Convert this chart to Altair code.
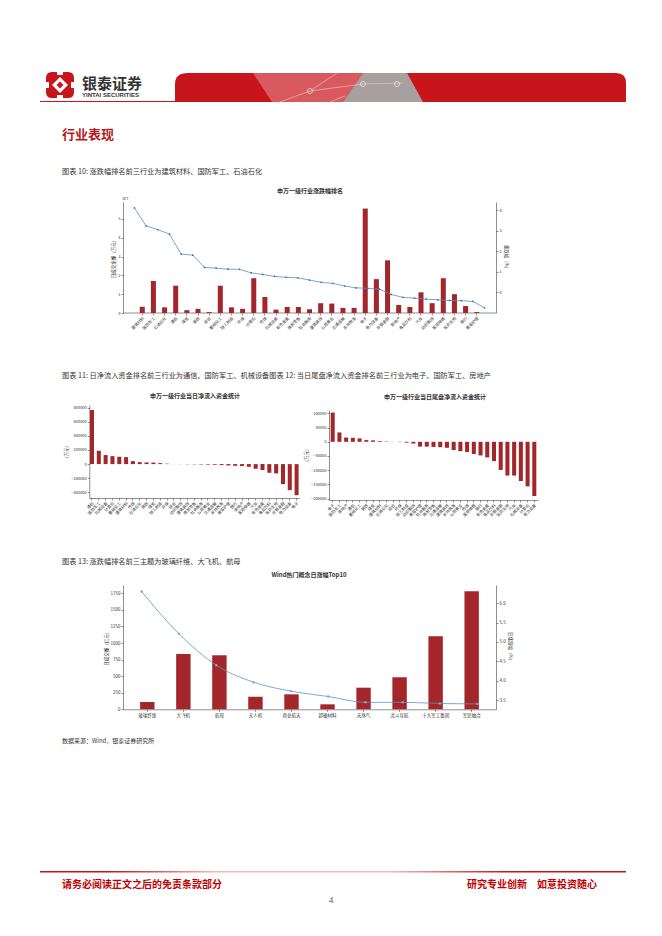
import altair as alt
import pandas as pd

FONT = "Noto Sans CJK SC"
W, H = 646, 918
M = 8  # page margin

BAR = "#a3262a"
LINE1 = "#5b8fbd"
DOT1 = "#3f6f98"
LINE4 = "#5a94c2"
DOT4 = "#8ea6ba"
RED = "#c8141b"

# ---------------- chart 1: 申万一级行业涨跌幅排名 ----------------
ind1 = ["建筑材料", "国防军工", "石油石化", "通信", "煤炭", "钢铁", "综合", "基础化工",
        "轻工制造", "环保", "计算机", "传媒", "机械设备", "有色金属", "商贸零售", "社会服务",
        "建筑装饰", "公用事业", "交通运输", "农林牧渔", "电子", "电力设备", "非银金融", "房地产",
        "食品饮料", "汽车", "纺织服饰", "家用电器", "医药生物", "银行", "美容护理"]
amt1 = [0.33, 1.70, 0.30, 1.45, 0.15, 0.22, 0.05, 1.45, 0.30, 0.22, 1.85, 0.85, 0.18, 0.32,
        0.32, 0.20, 0.52, 0.50, 0.27, 0.27, 5.55, 1.80, 2.80, 0.43, 0.32, 1.10, 0.52, 1.85,
        1.00, 0.37, 0.05]
pct1 = [4.10, 3.23, 3.05, 2.83, 1.86, 1.81, 1.21, 1.18, 1.13, 1.12, 0.95, 0.87, 0.78, 0.73,
        0.71, 0.60, 0.49, 0.44, 0.31, 0.22, 0.20, 0.16, -0.10, -0.24, -0.28, -0.33, -0.36,
        -0.39, -0.40, -0.44, -0.75]

# ---------------- chart 2: 当日净流入资金 ----------------
ind2 = ["通信", "国防军工", "机械设备", "计算机", "基础化工", "建筑材料", "传媒", "石油石化",
        "钢铁", "煤炭", "轻工制造", "环保", "综合", "纺织服饰", "建筑装饰", "商贸零售",
        "社会服务", "公用事业", "交通运输", "农林牧渔", "美容护理", "银行", "房地产", "家用电器",
        "汽车", "有色金属", "食品饮料", "医药生物", "非银金融", "电力设备", "电子"]
flow2 = [766000, 189000, 128000, 113000, 104000, 99000, 42000, 28000, 24000, 22000, 14000,
         6000, 1000, -1500, -3000, -4000, -6000, -8000, -10000, -14000, -19000, -24000,
         -28000, -38000, -66000, -85000, -123000, -132000, -284000, -369000, -440000]

# ---------------- chart 3: 当日尾盘净流入资金 ----------------
ind3 = ["电子", "国防军工", "房地产", "通信", "基础化工", "钢铁", "煤炭", "建筑材料",
        "石油石化", "综合", "环保", "轻工制造", "纺织服饰", "美容护理", "社会服务", "商贸零售",
        "交通运输", "建筑装饰", "农林牧渔", "公用事业", "传媒", "家用电器", "银行", "有色金属",
        "食品饮料", "非银金融", "医药生物", "汽车", "机械设备", "计算机", "电力设备"]
flow3 = [103000, 33000, 15000, 14000, 12000, 6000, 5000, 2500, 1200, 500, -1000, -3000,
         -6000, -17000, -17000, -18000, -19000, -21000, -29000, -33000, -36000, -43000,
         -48000, -55000, -68000, -99000, -119000, -119000, -138000, -157000, -191000]

# ---------------- chart 4: Wind热门概念日涨幅Top10 ----------------
theme4 = ["玻璃纤维", "大飞机", "航母", "无人机", "商业航天", "超硬材料", "天然气",
          "北斗导航", "十大军工集团", "军民融合"]
amt4 = [111, 835, 815, 191, 226, 75, 326, 483, 1101, 1780]
pct4 = [6.30, 5.21, 4.40, 3.96, 3.73, 3.59, 3.44, 3.44, 3.41, 3.40]

base = pd.DataFrame({"k": [0]})

AX = dict(domainColor="#444", domainWidth=0.6, tickColor="#444", tickWidth=0.6, tickSize=2,
          labelFontSize=4, labelColor="#333", labelFont=FONT, titleFont=FONT,
          titleFontSize=4.5, titleFontWeight="normal", titleColor="#333", grid=False,
          labelPadding=1, titlePadding=2)


def band(domain, r0, r1, pi, po):
    return alt.Scale(domain=domain, range=[r0 - M, r1 - M], paddingInner=pi, paddingOuter=po)


def lin(domain, ybot, ytop):
    return alt.Scale(domain=domain, range=[ybot - M, ytop - M], nice=False, zero=False)


def xaxis(ybot, angle, domain=True):
    return alt.Axis(orient="bottom", offset=(ybot - M) - H, labelAngle=angle, title=None,
                    labelOverlap=False, domain=domain, **AX)


def txt(x, y, s, size, color="#333", weight="normal", align="left", baseline="middle",
        font=FONT):
    return alt.Chart(base).mark_text(text=s, fontSize=size, color=color, fontWeight=weight,
                                     align=align, baseline=baseline, font=font).encode(
        x=alt.value(x - M), y=alt.value(y - M))


def hrule(x0, x1, y, color="#444", w=0.6):
    return alt.Chart(base).mark_rule(color=color, strokeWidth=w).encode(
        x=alt.value(x0 - M), x2=alt.value(x1 - M), y=alt.value(y - M))


def shape(path, color, opacity=1.0, filled=True, sw=0.0):
    kw = dict(shape=path, filled=filled, opacity=opacity, size=4)
    if filled:
        kw.update(fill=color, strokeWidth=0)
    else:
        kw.update(stroke=color, strokeWidth=sw, fillOpacity=0)
    return alt.Chart(base).mark_point(**kw).encode(x=alt.value(-M), y=alt.value(-M))


layers = []

# ---------- header ----------
layers.append(shape("M46,78 Q46,72 52,72 L68,72 Q74,72 74,78 L74,92 Q74,98 68,98 L52,98 Q46,98 46,92 Z", RED))
layers.append(shape("M57,72 L63,72 L63,75 L57,75 Z M57,95 L63,95 L63,98 L57,98 Z M46,82 L49,82 L49,88 L46,88 Z M71,82 L74,82 L74,88 L71,88 Z", "#ffffff"))
layers.append(shape("M60,77 L68,85 L60,93 L52,85 Z", "#ffffff"))
layers.append(shape("M60,81.5 L63.5,85 L60,88.5 L56.5,85 Z", RED))
layers.append(txt(82, 89, "银泰证券", 15, color="#333333", weight="bold", baseline="alphabetic"))
layers.append(txt(82, 96.5, "YINTAI SECURITIES", 6, color="#333333", weight="bold",
                  baseline="alphabetic", font="Liberation Sans"))
layers.append(hrule(40, 176, 101.5, color=RED, w=1))
layers.append(shape("M175,102 L175,84 Q175,73 188,73 L616,73 Q626,73 626,83 L626,102 Z", RED))
layers.append(shape("M253,73 L363,73 L343,102 L272,102 Z", "#ffffff", opacity=0.3))
layers.append(shape("M363,73 L407,73 L423,102 L343,102 Z", "#a6a6a6", opacity=0.95))
layers.append(shape("M277,103 L310,91 L337,73 M310,91 L363,84 L403,83 M330,102 L345,96",
                    "#f4c4c4", opacity=0.8, filled=False, sw=0.8))
layers.append(shape("M307.5,91 A2.5,2.5 0 1,0 312.5,91 A2.5,2.5 0 1,0 307.5,91 "
                    "M360.5,84 A2.5,2.5 0 1,0 365.5,84 A2.5,2.5 0 1,0 360.5,84 "
                    "M394.5,84 A2.5,2.5 0 1,0 399.5,84 A2.5,2.5 0 1,0 394.5,84",
                    "#f2f2f2", opacity=0.9, filled=False, sw=0.8))

# ---------- section title and captions ----------
layers.append(txt(62, 135, "行业表现", 13, color="#b31b1b", weight="bold"))
layers.append(txt(62, 172, "图表 10: 涨跌幅排名前三行业为建筑材料、国防军工、石油石化", 7.2))
layers.append(txt(62, 376, "图表 11: 日净流入资金排名前三行业为通信、国防军工、机械设备图表 12: 当日尾盘净流入资金排名前三行业为电子、国防军工、房地产", 7.2))
layers.append(txt(62, 562, "图表 13: 涨跌幅排名前三主题为玻璃纤维、大飞机、航母", 7.2))
layers.append(txt(62, 741, "数据来源：Wind，银泰证券研究所", 6))

# ---------- chart 1 ----------
df1 = pd.DataFrame({"ind": ind1, "amt": amt1, "pct": pct1})
sx1 = band(ind1, 128.6, 490.4, 0.55, 1.0)
layers.append(hrule(123, 496, 313))
layers.append(alt.Chart(df1).mark_bar(color=BAR).encode(
    x=alt.X("ind:N", scale=sx1, axis=xaxis(313, -45, domain=False)),
    y=alt.Y("amt:Q", scale=lin([0, 5.9], 313, 202),
            axis=alt.Axis(orient="left", offset=-(123 - M), values=[0, 1, 2, 3, 4, 5],
                          title="日成交金额（万元）", **AX))))
layers.append(alt.Chart(df1).mark_line(color=LINE1, strokeWidth=0.8).encode(
    x=alt.X("ind:N", scale=sx1, axis=None),
    y=alt.Y("pct:Q", scale=lin([-1.0, 4.39], 313, 202),
            axis=alt.Axis(orient="right", offset=(496 - M) - W, values=[0, 1, 2, 3, 4],
                          title="涨跌幅（%）", **AX))))
layers.append(alt.Chart(df1).mark_point(color=DOT1, filled=True, size=3, opacity=1).encode(
    x=alt.X("ind:N", scale=sx1, axis=None),
    y=alt.Y("pct:Q", scale=lin([-1.0, 4.39], 313, 202), axis=None)))
layers.append(txt(310, 191, "申万一级行业涨跌幅排名", 6, weight="bold", align="center"))
layers.append(txt(122, 199, "1e7", 3.8))

# ---------- chart 2 ----------
df2 = pd.DataFrame({"ind": ind2, "flow": flow2})
layers.append(alt.Chart(df2).mark_bar(color=BAR).encode(
    x=alt.X("ind:N", scale=band(ind2, 89.3, 299.3, 0.41, 0.1), axis=xaxis(498, -45)),
    y=alt.Y("flow:Q", scale=lin([-480000, 837000], 498, 405),
            axis=alt.Axis(orient="left", offset=-(89.3 - M),
                          values=[-400000, -200000, 0, 200000, 400000, 600000, 800000],
                          format="d", title="（万元）", **AX))))
layers.append(txt(195, 396, "申万一级行业当日净流入资金统计", 6, weight="bold", align="center"))

# ---------- chart 3 ----------
df3 = pd.DataFrame({"ind": ind3, "flow": flow3})
layers.append(alt.Chart(df3).mark_bar(color=BAR).encode(
    x=alt.X("ind:N", scale=band(ind3, 329, 538, 0.4, 0.25), axis=xaxis(500, -45)),
    y=alt.Y("flow:Q", scale=lin([-205000, 112000], 500, 410),
            axis=alt.Axis(orient="left", offset=-(329 - M),
                          values=[-200000, -150000, -100000, -50000, 0, 50000, 100000],
                          format="d", title="（万元）", **AX))))
layers.append(txt(435, 397, "申万一级行业当日尾盘净流入资金统计", 6, weight="bold", align="center"))

# ---------- chart 4 ----------
df4 = pd.DataFrame({"theme": theme4, "amt": amt4, "pct": pct4})
sx4 = band(theme4, 123, 496, 0.6, 0.475)
AX4 = dict(AX)
AX4["labelFontSize"] = 4.5
layers.append(alt.Chart(df4).mark_bar(color=BAR).encode(
    x=alt.X("theme:N", scale=sx4,
            axis=alt.Axis(orient="bottom", offset=(709.3 - M) - H, labelAngle=0, title=None,
                          labelOverlap=False, **AX4)),
    y=alt.Y("amt:Q", scale=lin([0, 1875], 709.3, 585),
            axis=alt.Axis(orient="left", offset=-(123 - M),
                          values=[0, 250, 500, 750, 1000, 1250, 1500, 1750], format="d",
                          title="日成交额（亿元）", **AX4))))
layers.append(alt.Chart(df4).mark_line(color=LINE4, strokeWidth=0.8, interpolate="monotone").encode(
    x=alt.X("theme:N", scale=sx4, axis=None),
    y=alt.Y("pct:Q", scale=lin([3.26, 6.47], 709.3, 585),
            axis=alt.Axis(orient="right", offset=(496 - M) - W,
                          values=[3.5, 4.0, 4.5, 5.0, 5.5, 6.0], format=".1f",
                          title="日涨跌幅（%）", **AX4))))
layers.append(alt.Chart(df4).mark_point(color=DOT4, filled=True, size=6, opacity=1).encode(
    x=alt.X("theme:N", scale=sx4, axis=None),
    y=alt.Y("pct:Q", scale=lin([3.26, 6.47], 709.3, 585), axis=None)))
layers.append(txt(309, 575, "Wind热门概念日涨幅Top10", 6, weight="bold", align="center"))

# ---------- footer ----------
grad = alt.Gradient(gradient="linear", x1=0, x2=1, y1=0, y2=0,
                    stops=[alt.GradientStop(color=RED, offset=0),
                           alt.GradientStop(color=RED, offset=0.12),
                           alt.GradientStop(color="#f0b8b8", offset=0.3),
                           alt.GradientStop(color="#f0b8b8", offset=0.6),
                           alt.GradientStop(color=RED, offset=0.8),
                           alt.GradientStop(color=RED, offset=1)])
layers.append(alt.Chart(base).mark_rect(color=grad).encode(
    x=alt.value(40 - M), x2=alt.value(626 - M), y=alt.value(871 - M), y2=alt.value(872.6 - M)))
layers.append(txt(62, 885, "请务必阅读正文之后的免责条款部分", 10, color="#c00000", weight="bold"))
layers.append(txt(597, 885, "研究专业创新\u3000如意投资随心", 10, color="#c00000", weight="bold",
                  align="right"))
layers.append(txt(331, 900, "4", 9, color="#555555", align="center", font="Liberation Serif"))

chart = alt.layer(*layers).resolve_scale(x="independent", y="independent").resolve_axis(
    x="independent", y="independent").properties(
    width=W, height=H, padding=0, autosize=alt.AutoSizeParams(type="none")
).configure_view(stroke=None)

chart.save("out.html", embed_options={"renderer": "svg", "actions": False})
